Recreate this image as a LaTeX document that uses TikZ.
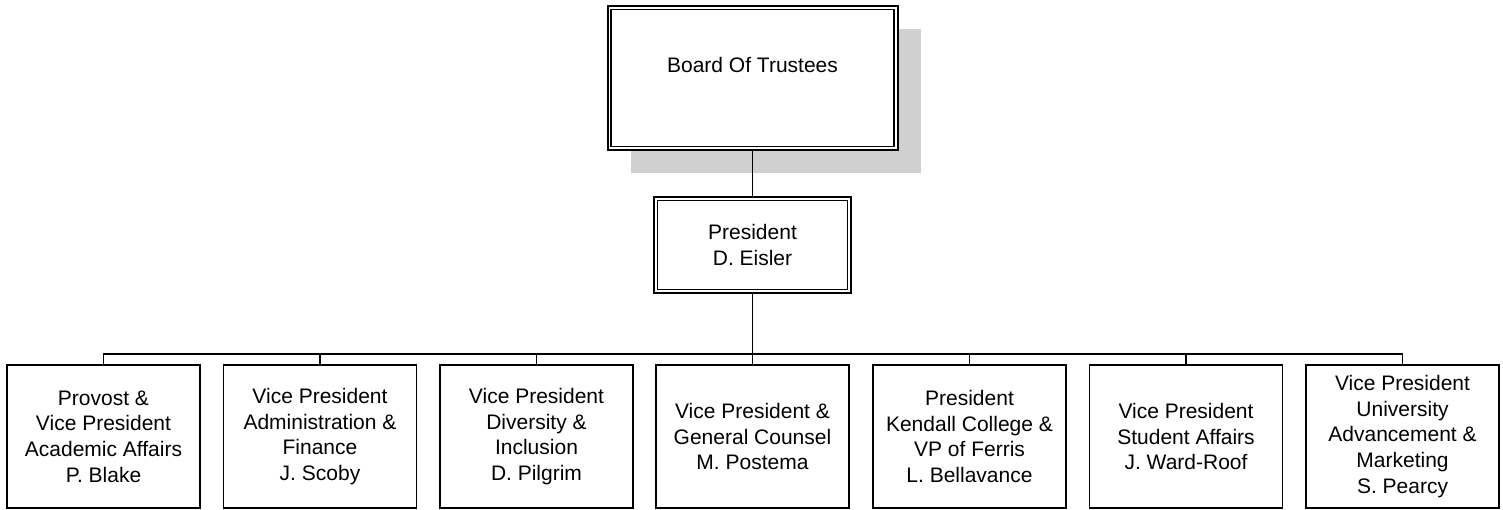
\documentclass[tikz,border=0pt]{standalone}
\usepackage{fontspec}
\setmainfont{Liberation Sans}
\usetikzlibrary{shadows}
\definecolor{shadowgray}{HTML}{D0D0D0}
\tikzset{
  txt/.style={align=center, font=\fontsize{21}{25.7}\selectfont, inner sep=0pt},
  unitbox/.style={draw, line width=1.4pt, minimum width=193pt, minimum height=143pt, inner sep=0pt, txt},
  dblouter/.style={draw, line width=2pt, inner sep=0pt, txt},
  dblinner/.style={line width=1.2pt},
  conn/.style={line width=1.4pt},
}
\begin{document}
\begin{tikzpicture}[x=1pt,y=-1pt]
\useasboundingbox (0,0) rectangle (1503,510);
% Board of trustees
\node[dblouter, fill=white, minimum width=290pt, minimum height=144pt,
  drop shadow={shadow xshift=23pt, shadow yshift=-23pt, fill=shadowgray, opacity=1}] (bot) at (752.5,78) {};
\draw[dblinner] ([shift={(4.5pt,4.5pt)}]bot.south west) rectangle ([shift={(-4.5pt,-4.5pt)}]bot.north east);
\node[txt] (bottxt) at ([yshift=13pt]bot.center) {Board Of Trustees};
% President
\node[dblouter, minimum width=197pt, minimum height=96pt] (pres) at (752.5,245) {President\\D. Eisler};
\draw[dblinner] ([shift={(4.5pt,4.5pt)}]pres.south west) rectangle ([shift={(-4.5pt,-4.5pt)}]pres.north east);
% Units
\node[unitbox] (b1) at (103.5,436.5) {Provost \&\\Vice President\\Academic Affairs\\P. Blake};
\node[unitbox] (b2) at (320,436.5) {Vice President\\Administration \&\\Finance\\J. Scoby};
\node[unitbox] (b3) at (536.5,436.5) {Vice President\\Diversity \&\\Inclusion\\D. Pilgrim};
\node[unitbox] (b4) at (752.5,436.5) {Vice President \&\\General Counsel\\M. Postema};
\node[unitbox] (b5) at (969.5,436.5) {President\\Kendall College \&\\VP of Ferris\\L. Bellavance};
\node[unitbox] (b6) at (1186,436.5) {Vice President\\Student Affairs\\J. Ward-Roof};
\node[unitbox] (b7) at (1402.5,436.5) {Vice President\\University\\Advancement \&\\Marketing\\S. Pearcy};
% Connectors
\coordinate (bus) at (752.5,354);
\draw[conn] (bot.south) -- (pres.north);
\draw[conn] (pres.south) -- (pres.south |- bus);
\draw[conn] (b1.north) -- (b1.north |- bus) -- (b7.north |- bus) -- (b7.north);
\foreach \i in {2,...,6} {\draw[conn] (b\i.north) -- (b\i.north |- bus);}
\end{tikzpicture}
\end{document}
